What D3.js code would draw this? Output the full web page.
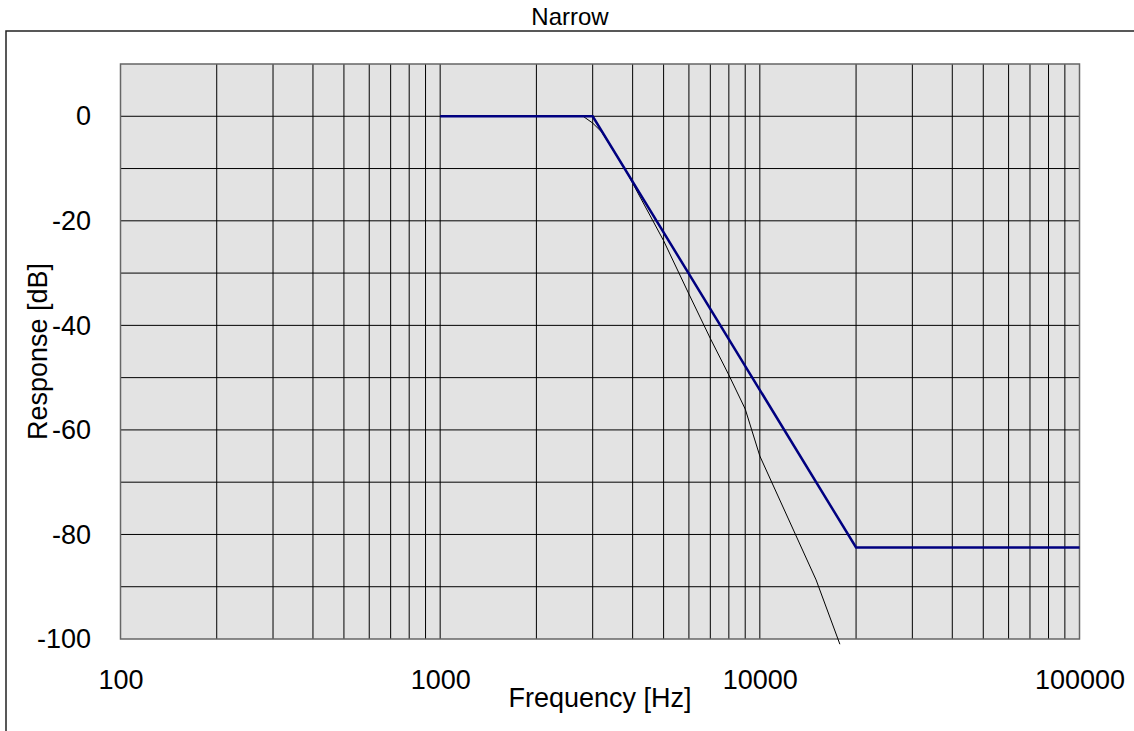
<!DOCTYPE html>
<html>
<head>
<meta charset="utf-8">
<script src="https://cdn.jsdelivr.net/npm/d3@7"></script>
<style>
  body { margin: 0; background: #fff; }
  svg { display: block; font-family: "Liberation Sans", Arial, sans-serif; }
</style>
</head>
<body>
<script>
// filter response
const idealFreq = [1000, 3000, 20000, 100000];
const idealDb = [0, 0, -82.5, -82.5];
const actualFreq = [1000, 2800, 3000, 3200, 3776, 4000, 5000, 6000, 7000, 8000, 9000, 10000, 15000, 17800];
const actualDb = [0, 0, -1.3, -3, -10, -12.8, -23.8, -34, -42.5, -49.5, -56, -65, -88.7, -101];
const freqTicks = [100, 1000, 10000, 100000];
const dbTicks = [0, -20, -40, -60, -80, -100];

const W = 1134, H = 731;
const plotL = 120.5, plotR = 1079.5, plotT = 64, plotB = 639;

const svg = d3.select("body").append("svg")
    .attr("width", W)
    .attr("height", H);

// outer frame
svg.append("rect")
    .attr("x", 6).attr("y", 31)
    .attr("width", 1130).attr("height", 720)
    .attr("fill", "none")
    .attr("stroke", "#222")
    .attr("stroke-width", 1.5);

svg.append("text")
    .attr("x", 570).attr("y", 25)
    .attr("text-anchor", "middle")
    .attr("font-size", 24)
    .text("Narrow");

let x = d3.scaleLog().domain([100, 100000]).range([plotL, plotR]);
let y = d3.scaleLinear().domain([-100, 10]).range([plotB, plotT]);

svg.append("rect")
    .attr("x", plotL).attr("y", plotT)
    .attr("width", plotR - plotL).attr("height", plotB - plotT)
    .attr("fill", "#e3e3e3");

// grid
let minor = [];
for (let dec = 100; dec < 100000; dec *= 10) {
    for (let k = 1; k < 10; k++) {
        if (dec * k > 100) minor.push(dec * k);
    }
}
svg.append("g").selectAll("line")
    .data(minor)
    .enter().append("line")
    .attr("x1", d => x(d)).attr("x2", d => x(d))
    .attr("y1", plotT).attr("y2", plotB)
    .attr("stroke", "#000").attr("stroke-width", 1);

svg.append("g").selectAll("line")
    .data(d3.range(-90, 10, 10))
    .enter().append("line")
    .attr("x1", plotL).attr("x2", plotR)
    .attr("y1", d => y(d)).attr("y2", d => y(d))
    .attr("stroke", "#000").attr("stroke-width", 1);

svg.append("rect")
    .attr("x", plotL).attr("y", plotT)
    .attr("width", plotR - plotL).attr("height", plotB - plotT)
    .attr("fill", "none")
    .attr("stroke", "#666")
    .attr("stroke-width", 1.5);

// axes
let xAxis = svg.append("g")
    .attr("transform", "translate(0," + plotB + ")")
    .call(d3.axisBottom(x).tickValues(freqTicks).tickFormat(d => String(d)).tickSize(0).tickPadding(31));
let yAxis = svg.append("g")
    .attr("transform", "translate(" + plotL + ",0)")
    .call(d3.axisLeft(y).tickValues(dbTicks).tickFormat(d => String(d)).tickSize(0).tickPadding(29.5));
[xAxis, yAxis].forEach(a => {
    a.select(".domain").remove();
    a.selectAll("text")
        .attr("font-size", 27)
        .attr("font-family", "Liberation Sans, Arial, sans-serif")
        .attr("fill", "#000");
});

svg.append("text")
    .attr("x", (plotL + plotR) / 2).attr("y", 707)
    .attr("text-anchor", "middle")
    .attr("font-size", 27)
    .text("Frequency [Hz]");

svg.append("text")
    .attr("transform", "translate(47," + (plotT + plotB) / 2 + ") rotate(-90)")
    .attr("text-anchor", "middle")
    .attr("font-size", 27)
    .text("Response [dB]");

// curves
let line = d3.line()
    .x(d => x(d[0]))
    .y(d => y(d[1]));

svg.append("path")
    .datum(d3.zip(actualFreq, actualDb))
    .attr("d", line)
    .attr("fill", "none")
    .attr("stroke", "#000")
    .attr("stroke-width", 1);

svg.append("path")
    .datum(d3.zip(idealFreq, idealDb))
    .attr("d", line)
    .attr("fill", "none")
    .attr("stroke", "#000080")
    .attr("stroke-width", 2.5);
</script>
</body>
</html>
